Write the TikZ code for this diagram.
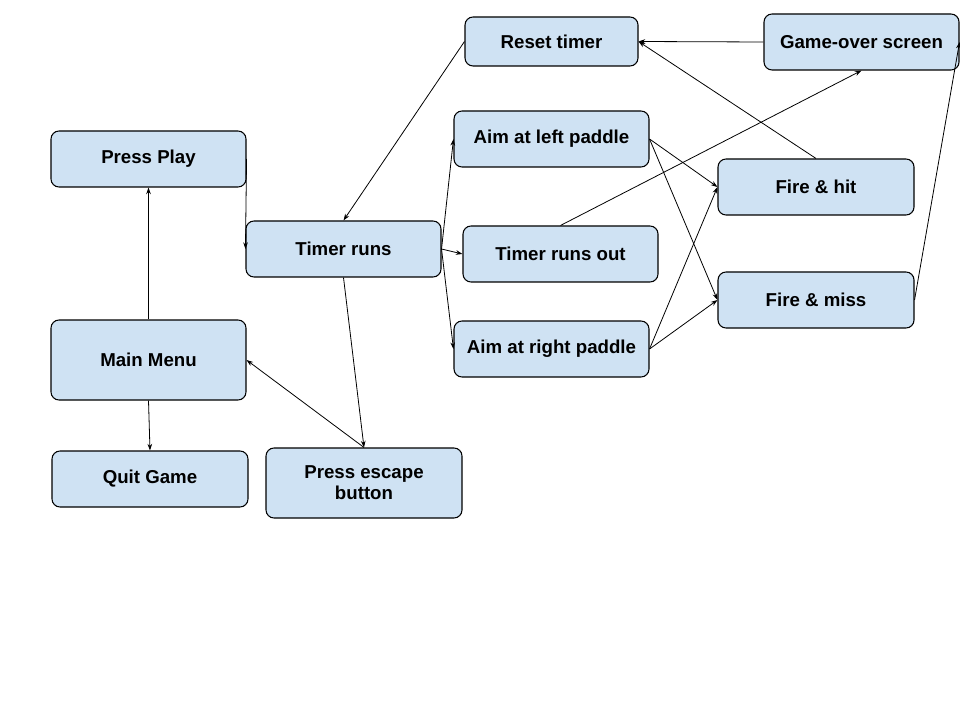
\documentclass[tikz,border=0pt]{standalone}
\usepackage{fontspec}
\setmainfont{Liberation Sans}
\usetikzlibrary{arrows.meta}
\definecolor{boxblue}{HTML}{CFE2F3}
\begin{document}
\begin{tikzpicture}[x=0.75pt,y=-0.75pt,
box/.style={draw, fill=boxblue, rounded corners=6pt, line width=0.8pt,
  minimum width=146.25pt, minimum height=42pt, align=center,
  font=\fontsize{14}{16}\selectfont\bfseries},
arr/.style={line width=0.6pt, -{Stealth[length=5pt,width=3.5pt]}}]
\useasboundingbox (0,0) rectangle (960,720);
\node[box] (play) at (148.5,159) {Press Play};
\node[box, minimum height=60pt] (menu) at (148.5,360) {Main Menu};
\node[box, minimum width=147pt] (quit) at (150,479) {Quit Game};
\node[box] (timer) at (343.5,249) {Timer runs};
\node[box, minimum width=147pt, minimum height=52.5pt] (escape) at (364,483) {Press escape\\button};
\node[box, minimum width=129.75pt, minimum height=36.75pt] (reset) at (551.5,41.5) {Reset timer};
\node[box] (aimleft) at (551.5,139) {Aim at left paddle};
\node[box] (runsout) at (560.5,254) {Timer runs out};
\node[box] (aimright) at (551.5,349) {Aim at right paddle};
\node[box] (gameover) at (861.5,42) {Game-over screen};
\node[box, minimum width=147pt] (hit) at (816,187) {Fire \& hit};
\node[box, minimum width=147pt] (miss) at (816,300) {Fire \& miss};
% menu flow
\draw[arr] (menu.north) -- (play.south);
\draw[arr] (menu.south) -- (quit.north);
\draw[arr] (play.east) -- (timer.west);
\draw[arr] (timer.south) -- (escape.north);
\draw[arr] (escape.north) -- (menu.east);
% game flow
\foreach \n in {aimleft,runsout,aimright}
\draw[arr] (timer.east) -- (\n.west);
\foreach \a in {aimleft,aimright}{
\draw[arr] (\a.east) -- (hit.west);
\draw[arr] (\a.east) -- (miss.west);
}
\draw[arr] (reset.west) -- (timer.north);
\draw[arr] (gameover.west) -- (reset.east);
\draw[arr] (hit.north) -- (reset.east);
\draw[arr] (runsout.north) -- (gameover.south);
\draw[arr] (miss.east) -- (gameover.east);
\end{tikzpicture}
\end{document}
